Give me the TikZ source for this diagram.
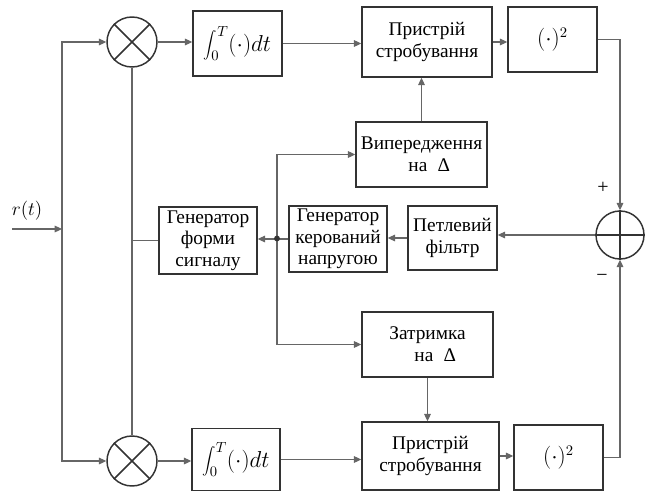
\documentclass[tikz,border=0pt]{standalone}
\usepackage{fontspec}
\setmainfont{Liberation Serif}
\usetikzlibrary{arrows.meta}
\begin{document}
\begin{tikzpicture}[x=0.75pt,y=-0.75pt,
  box/.style={draw=black!80,line width=1.1pt,inner sep=0pt,align=center,
    font=\fontsize{14.5}{16.3}\selectfont},
  mbox/.style={box,font=\fontsize{16}{18}\selectfont},
  mult/.style={draw=black!80,line width=1.1pt,circle,inner sep=0pt,minimum size=37.5pt},
  conn/.style={draw=black!60,line width=0.8pt},
  arr/.style={conn,-{Triangle[length=5.5pt,width=5pt]}},
  lbl/.style={font=\fontsize{15}{16}\selectfont}]
\useasboundingbox (0,0) rectangle (645,492);
% boxes
\node[mbox,minimum width=66.75pt,minimum height=48.75pt] (int1) at (237.5,43.5) {$\displaystyle\int_0^T(\cdot)dt$};
\node[box,minimum width=97.5pt,minimum height=52.5pt] (pr1) at (427,42) {Пристрій\\стробування};
\node[mbox,minimum width=66.75pt,minimum height=48.75pt] (sq1) at (552.5,39.5) {$(\cdot)^2$};
\node[box,minimum width=98.25pt,minimum height=48.75pt] (vip) at (421.5,154.5) {Випередження\\\hspace*{0.8em}на \;Δ};
\node[box,minimum width=73.5pt,minimum height=50.25pt] (gfs) at (208,240.5) {Генератор\\форми\\сигналу};
\node[box,minimum width=73.5pt,minimum height=49.5pt] (gkn) at (338,239) {Генератор\\керований\\напругою};
\node[box,minimum width=66.75pt,minimum height=48pt] (pet) at (452.5,238) {Петлевий\\фільтр};
\node[box,minimum width=98.25pt,minimum height=48.75pt] (zat) at (427.5,344.5) {Затримка\\\hspace*{0.8em}на \;Δ};
\node[mbox,minimum width=66pt,minimum height=46.5pt] (int2) at (236,459.5) {$\displaystyle\int_0^T(\cdot)dt$};
\node[box,minimum width=102.75pt,minimum height=51pt] (pr2) at (430.5,456) {Пристрій\\стробування};
\node[mbox,minimum width=66.75pt,minimum height=48.75pt] (sq2) at (558.5,457.5) {$(\cdot)^2$};
% circles
\node[mult] (m1) at (132,42) {};
\draw[black!80,line width=1.1pt] (m1.north west) -- (m1.south east) (m1.north east) -- (m1.south west);
\node[mult] (m2) at (132,461) {};
\draw[black!80,line width=1.1pt] (m2.north west) -- (m2.south east) (m2.north east) -- (m2.south west);
\node[mult,minimum size=36pt] (sum) at (620,235) {};
\draw[black!80,line width=1.1pt] (sum.north) -- (sum.south) (sum.west) -- (sum.east);
% labels
\node[lbl] (rt) at (27,211) {$r(t)$};
\node[lbl] (plus) at (603,188) {+};
\node[lbl] (minus) at (602,278) {−};
% coordinates
\coordinate (in) at (12,229);
\coordinate (j) at (62,229);
\coordinate (br) at (277,238.5);
% connectors
\draw[arr] (in) -- (j);
\draw[arr] (j) |- (m1.west);
\draw[arr] (j) |- (m2.west);
\draw[arr] (m1.east) -- (m1.east -| int1.west);
\draw[arr] (m2.east) -- (m2.east -| int2.west);
\draw[arr] (int1.east) -- (int1.east -| pr1.west);
\draw[arr] (int2.east) -- (int2.east -| pr2.west);
\draw[arr] (pr1.east) -- (pr1.east -| sq1.west);
\draw[arr] (pr2.east) -- (pr2.east -| sq2.west);
\draw[arr] (sq1.east) -| (sum.north);
\draw[arr] (sq2.east) -| (sum.south);
\draw[arr] (sum.west) -- (sum.west -| pet.east);
\draw[arr] (pet.west) -- (pet.west -| gkn.east);
\draw[arr] (gkn.west) -- (gkn.west -| gfs.east);
\draw[conn] (m1.south) -- (m2.north);
\draw[conn] (gfs.west) -- (gfs.west -| m1.south);
\draw[arr] (br) |- (vip.west);
\draw[arr] (br) |- (zat.west);
\fill[black!80] (br) circle (2.2pt);
\draw[arr] (vip.north) -- (vip.north |- pr1.south);
\draw[arr] (zat.south) -- (zat.south |- pr2.north);
\end{tikzpicture}
\end{document}
